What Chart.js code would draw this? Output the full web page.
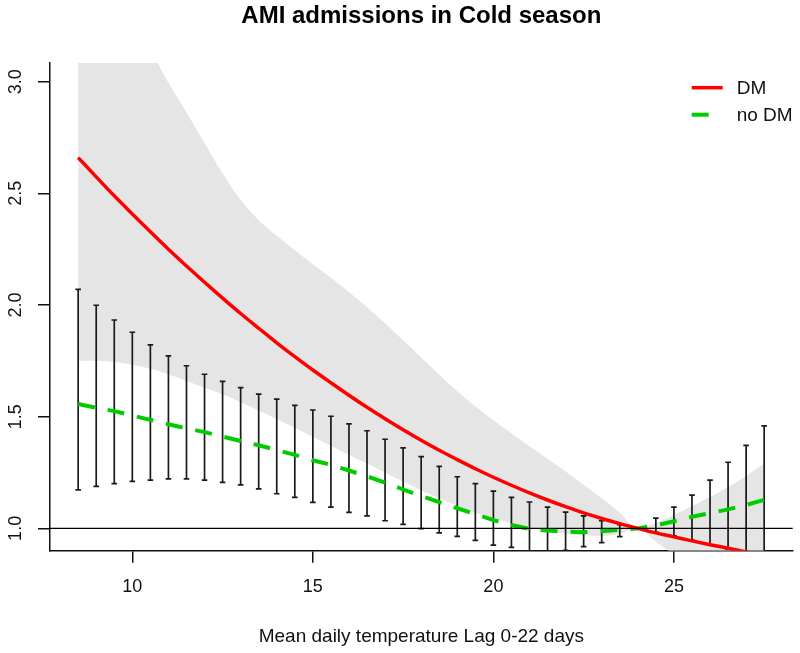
<!DOCTYPE html>
<html>
<head>
<meta charset="utf-8">
<script src="https://cdn.jsdelivr.net/npm/chart.js@4.4.0/dist/chart.umd.min.js"></script>
<style>html,body{margin:0;padding:0;background:#fff;}canvas{display:block;}</style>
</head>
<body>
<canvas id="c" width="800" height="653"></canvas>
<script>
// ---- data ----
const temps = [8.5,9,9.5,10,10.5,11,11.5,12,12.5,13,13.5,14,14.5,15,15.5,16,16.5,17,17.5,18,18.5,19,19.5,20,20.5,21,21.5,22,22.5,23,23.5,24,24.5,25,25.5,26,26.5,27,27.5];
// DM: relative risk estimate and its confidence band (grey)
const dmEst  = [2.660,2.574,2.489,2.408,2.328,2.250,2.175,2.102,2.031,1.962,1.896,1.831,1.769,1.709,1.652,1.596,1.542,1.491,1.442,1.395,1.350,1.308,1.267,1.229,1.193,1.159,1.127,1.097,1.069,1.044,1.021,1.000,0.980,0.962,0.944,0.927,0.911,0.895,0.881];
const dmHigh = [4.04,3.78,3.55,3.34,3.15,2.995,2.862,2.726,2.59,2.47,2.38,2.31,2.245,2.183,2.122,2.058,1.99,1.918,1.842,1.765,1.688,1.614,1.546,1.484,1.425,1.368,1.312,1.255,1.195,1.135,1.07,1.0,1.025,1.06,1.1,1.14,1.185,1.235,1.29];
const dmLow  = [1.75,1.75,1.745,1.733,1.715,1.69,1.66,1.63,1.6,1.565,1.528,1.49,1.45,1.41,1.37,1.33,1.29,1.25,1.21,1.17,1.135,1.1,1.07,1.045,1.022,1.003,0.988,0.976,0.968,0.966,0.976,1.0,0.94,0.88,0.815,0.757,0.703,0.656,0.611];
// no DM: estimate (dashed) and confidence interval (error bars)
const noDmEst  = [1.557,1.540,1.525,1.505,1.486,1.466,1.448,1.431,1.411,1.391,1.372,1.351,1.329,1.305,1.284,1.259,1.233,1.205,1.174,1.145,1.117,1.09,1.064,1.037,1.015,0.998,0.99,0.985,0.983,0.987,0.994,1.0,1.013,1.032,1.052,1.068,1.085,1.105,1.128];
const noDmHigh = [2.070,1.999,1.933,1.878,1.822,1.772,1.728,1.690,1.658,1.630,1.601,1.579,1.551,1.530,1.502,1.468,1.437,1.399,1.360,1.321,1.278,1.231,1.200,1.167,1.139,1.118,1.095,1.073,1.056,1.034,1.017,1.0,1.046,1.095,1.149,1.216,1.296,1.372,1.459];
const noDmLow  = [1.172,1.188,1.200,1.210,1.216,1.222,1.222,1.216,1.206,1.195,1.177,1.155,1.139,1.116,1.095,1.072,1.056,1.034,1.018,0.999,0.980,0.964,0.946,0.925,0.915,0.893,0.895,0.902,0.918,0.936,0.963,1.0,0.982,0.966,0.948,0.925,0.907,0.89,0.87];
const xTicks = [10,15,20,25];
const yTicks = [1.0,1.5,2.0,2.5,3.0];
const refLine = 1.0;
const titleText = 'AMI admissions in Cold season';
const xTitle = 'Mean daily temperature Lag 0-22 days';

const FONT = '"Liberation Sans", Arial, Helvetica, sans-serif';
const pts = arr => temps.map((t, i) => ({x: t, y: arr[i]}));

// error bars + reference line, drawn through the chart scales
const errorBars = {
  id: 'errorBars',
  beforeDatasetsDraw(chart) {
    const {ctx, chartArea: a, scales: {x, y}} = chart;
    ctx.save();
    ctx.beginPath();
    ctx.rect(a.left, a.top, a.right - a.left, a.bottom - a.top);
    ctx.clip();
    ctx.strokeStyle = '#1a1a1a';
    ctx.lineWidth = 1.7;
    temps.forEach((t, i) => {
      if (noDmHigh[i] === noDmLow[i]) return;
      const px = x.getPixelForValue(t);
      const pt = y.getPixelForValue(noDmHigh[i]);
      const pb = y.getPixelForValue(noDmLow[i]);
      ctx.beginPath();
      ctx.moveTo(px, pt); ctx.lineTo(px, pb);
      ctx.moveTo(px - 2.8, pt); ctx.lineTo(px + 2.8, pt);
      ctx.moveTo(px - 2.8, pb); ctx.lineTo(px + 2.8, pb);
      ctx.stroke();
    });
    ctx.restore();
  },
  afterDatasetsDraw(chart) {
    const {ctx, chartArea: a, scales: {y}} = chart;
    const py = y.getPixelForValue(refLine);
    ctx.save();
    ctx.strokeStyle = '#000';
    ctx.lineWidth = 1.3;
    ctx.beginPath();
    ctx.moveTo(a.left, py); ctx.lineTo(a.right, py);
    ctx.stroke();
    ctx.restore();
  }
};

// legend inside the plot, top right
const legendBox = {
  id: 'legendBox',
  afterDraw(chart) {
    const {ctx, chartArea: a} = chart;
    const items = chart.data.datasets.filter(d => d.inLegend);
    ctx.save();
    ctx.font = '19px ' + FONT;
    ctx.textBaseline = 'middle';
    ctx.textAlign = 'left';
    items.forEach((d, i) => {
      const yy = a.top + 25 + i * 27;
      ctx.strokeStyle = d.borderColor;
      ctx.lineWidth = d.borderWidth;
      ctx.setLineDash(d.borderDash ? [17, 15] : []);
      ctx.beginPath();
      ctx.moveTo(a.right - 101, yy); ctx.lineTo(a.right - 70, yy);
      ctx.stroke();
      ctx.setLineDash([]);
      ctx.fillStyle = '#111';
      ctx.fillText(d.label, a.right - 56, yy + 1);
    });
    ctx.restore();
  }
};

const axisGrid = {display: true, drawOnChartArea: false, drawTicks: true, tickLength: 12, color: '#111', tickWidth: 1.5, lineWidth: 1.5};

new Chart(document.getElementById('c'), {
  type: 'line',
  data: {
    datasets: [
      {label: 'DM upper', data: pts(dmHigh), borderWidth: 0, pointRadius: 0, fill: '+1', backgroundColor: '#e5e5e5', cubicInterpolationMode: 'monotone'},
      {label: 'DM lower', data: pts(dmLow), borderWidth: 0, pointRadius: 0, fill: false, cubicInterpolationMode: 'monotone'},
      {label: 'DM', data: pts(dmEst), borderColor: '#ff0000', borderWidth: 3.5, pointRadius: 0, fill: false, cubicInterpolationMode: 'monotone', inLegend: true},
      {label: 'no DM', data: pts(noDmEst), borderColor: '#00cc00', borderWidth: 4, borderDash: [17, 13], pointRadius: 0, fill: false, inLegend: true}
    ]
  },
  options: {
    responsive: false,
    animation: false,
    devicePixelRatio: 1,
    layout: {padding: {left: 0, right: 7.3, top: 0, bottom: 0}},
    plugins: {
      legend: {display: false},
      tooltip: {enabled: false},
      filler: {drawTime: 'beforeDatasetsDraw'},
      title: {
        display: true, text: titleText, fullSize: false, color: '#000',
        font: {family: FONT, size: 24, weight: 'bold'},
        padding: {top: 2, bottom: 31.9}
      }
    },
    scales: {
      x: {
        type: 'linear', min: 7.72, max: 28.29,
        afterBuildTicks: s => { s.ticks = xTicks.map(v => ({value: v})); },
        afterFit: s => { s.height = 102.3; },
        grid: axisGrid,
        border: {display: true, color: '#111', width: 1.5},
        ticks: {font: {family: FONT, size: 18}, color: '#111', padding: 13.5, maxRotation: 0, minRotation: 0},
        title: {display: true, text: xTitle, color: '#111', font: {family: FONT, size: 19}, padding: {top: 0, bottom: 5.3}}
      },
      y: {
        type: 'linear', min: 0.9, max: 3.085,
        afterBuildTicks: s => { s.ticks = yTicks.map(v => ({value: v})); },
        afterFit: s => { s.width = 50; },
        grid: axisGrid,
        border: {display: true, color: '#111', width: 1.5},
        ticks: {font: {family: FONT, size: 18}, color: '#111', padding: 9.7, minRotation: 90, maxRotation: 90, crossAlign: 'center',
                callback: v => Number(v).toFixed(1)}
      }
    }
  },
  plugins: [errorBars, legendBox]
});
</script>
</body>
</html>
